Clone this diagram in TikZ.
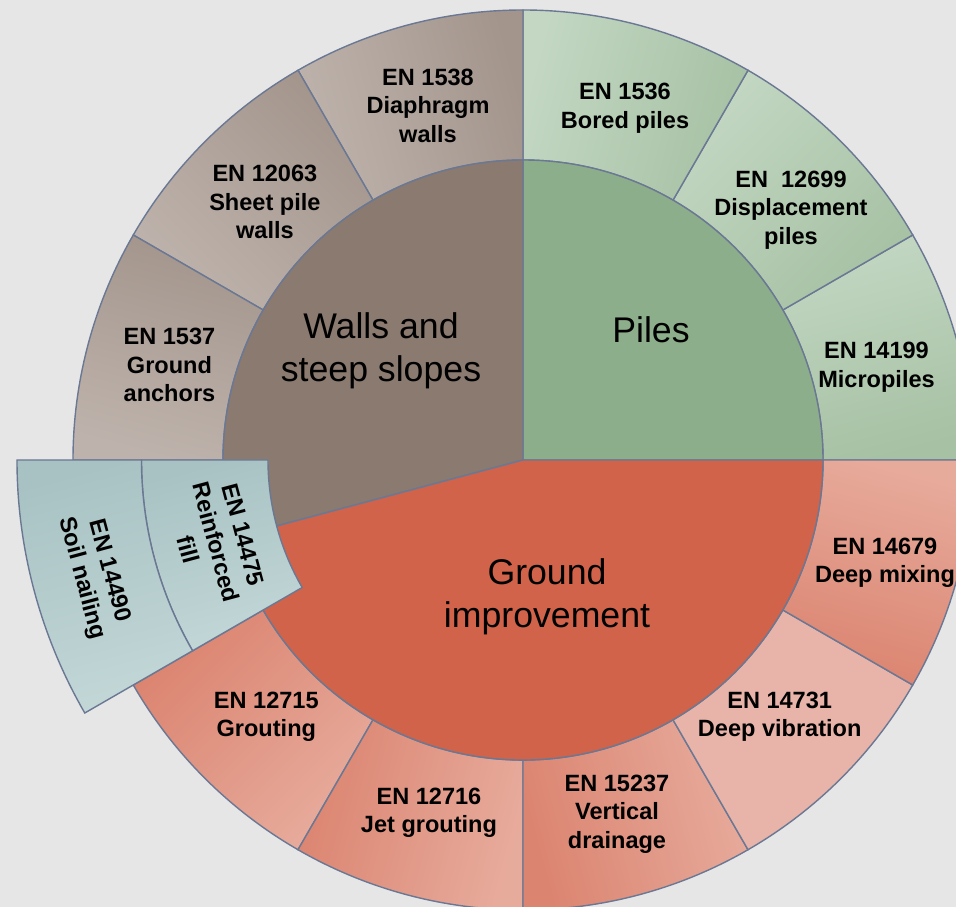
\documentclass[tikz,border=0pt]{standalone}
\usepackage{fontspec}
\setmainfont{Liberation Sans}

\definecolor{bgcol}{HTML}{E6E6E6}
\definecolor{edgecol}{HTML}{6B7894}
\definecolor{wallsin}{HTML}{8A7A70}
\definecolor{wallsdark}{HTML}{A3958C}
\definecolor{wallslight}{HTML}{BEB3AC}
\definecolor{pilesin}{HTML}{8DAE8B}
\definecolor{pilesdark}{HTML}{A6C1A4}
\definecolor{pileslight}{HTML}{C3D7C2}
\definecolor{groundin}{HTML}{D0634A}
\definecolor{grounddark}{HTML}{DB8470}
\definecolor{groundlight}{HTML}{E7AB9C}
\definecolor{vibration}{HTML}{E8B3A8}
\definecolor{filldark}{HTML}{A8C2C3}
\definecolor{filllight}{HTML}{C3D7D7}

% ring part: style, start angle, end angle, inner radius, outer radius
\newcommand{\ringpart}[5]{%
  \path[#1] (#2:#4) arc[start angle=#2, end angle=#3, radius=#4]
    -- (#3:#5) arc[start angle=#3, end angle=#2, radius=#5] -- cycle;}

\tikzset{
  part/.style={draw=edgecol, line width=0.4pt},
  ringlabel/.style={align=center, font=\fontsize{6.7}{8.1}\selectfont\bfseries, inner sep=0pt},
  hublabel/.style={align=center, font=\fontsize{10.15}{12.1}\selectfont, inner sep=0pt}
}

\begin{document}
\begin{tikzpicture}
    % Background and frame
    \fill[bgcol] (-5.23,-4.47) rectangle (4.33,4.60);
    \useasboundingbox (-5.23,-4.47) rectangle (4.33,4.60);
    \clip (-5.23,-4.47) rectangle (4.33,4.60);

    % Outer ring for piles
    \ringpart{part, top color=pileslight, bottom color=pilesdark, shading angle=15}{0}{30}{3}{4.5}
    \ringpart{part, top color=pileslight, bottom color=pilesdark, shading angle=45}{30}{60}{3}{4.5}
    \ringpart{part, top color=pileslight, bottom color=pilesdark, shading angle=75}{60}{90}{3}{4.5}

    % Outer ring for walls and steep slopes
    \ringpart{part, top color=wallslight, bottom color=wallsdark, shading angle=105}{90}{120}{3}{4.5}
    \ringpart{part, top color=wallslight, bottom color=wallsdark, shading angle=135}{120}{150}{3}{4.5}
    \ringpart{part, top color=wallslight, bottom color=wallsdark, shading angle=165}{150}{180}{3}{4.5}

    % Outer ring for ground improvement
    \ringpart{part, top color=groundlight, bottom color=grounddark, shading angle=225}{210}{240}{3}{4.5}
    \ringpart{part, top color=groundlight, bottom color=grounddark, shading angle=255}{240}{270}{3}{4.5}
    \ringpart{part, top color=groundlight, bottom color=grounddark, shading angle=285}{270}{300}{3}{4.5}
    \ringpart{part, fill=vibration}{300}{330}{3}{4.5}
    \ringpart{part, top color=groundlight, bottom color=grounddark, shading angle=345}{330}{360}{3}{4.5}

    % Inner sectors
    \path[part, fill=pilesin] (0,0) -- (0:3) arc[start angle=0, end angle=90, radius=3] -- cycle;
    \path[part, fill=wallsin] (0,0) -- (90:3) arc[start angle=90, end angle=195, radius=3] -- cycle;
    \path[part, fill=groundin] (0,0) -- (195:3) arc[start angle=195, end angle=360, radius=3] -- cycle;

    % Pulled out part
    \ringpart{part, top color=filllight, bottom color=filldark, shading angle=195}{180}{210}{2.55}{3.815}
    \ringpart{part, top color=filllight, bottom color=filldark, shading angle=195}{180}{210}{3.815}{5.06}

    % Hub labels
    \node[hublabel] (walls) at (-1.42,1.09) {Walls and\\steep slopes};
    \node[hublabel] (piles) at (1.28,1.30) {Piles};
    \node[hublabel] (ground) at (0.24,-1.37) {Ground\\improvement};

    % Ring labels
    \node[ringlabel] (micro) at (3.535,0.93) {EN 14199\\Micropiles};
    \node[ringlabel] (displ) at (2.68,2.50) {EN\ \ 12699\\Displacement\\piles};
    \node[ringlabel] (bored) at (1.02,3.517) {EN 1536\\Bored piles};
    \node[ringlabel] (diaph) at (105:3.67) {EN 1538\\Diaphragm\\walls};
    \node[ringlabel] (sheet) at (135:3.65) {EN 12063\\Sheet pile\\walls};
    \node[ringlabel] (anchor) at (165:3.66) {EN 1537\\Ground\\anchors};
    \node[ringlabel] (grout) at (225:3.63) {EN 12715\\Grouting};
    \node[ringlabel] (jet) at (-0.94,-3.53) {EN 12716\\Jet grouting};
    \node[ringlabel] (drain) at (0.94,-3.54) {EN 15237\\Vertical\\drainage};
    \node[ringlabel] (vibro) at (315:3.63) {EN 14731\\Deep vibration};
    \node[ringlabel] (mixing) at (3.62,-1.03) {EN 14679\\Deep mixing};
    \node[ringlabel, rotate=-75] (fill) at (195:3.18) {EN 14475\\Reinforced\\fill};
    \node[ringlabel, rotate=-75] (nail) at (195:4.43) {EN 14490\\Soil nailing};
\end{tikzpicture}
\end{document}
